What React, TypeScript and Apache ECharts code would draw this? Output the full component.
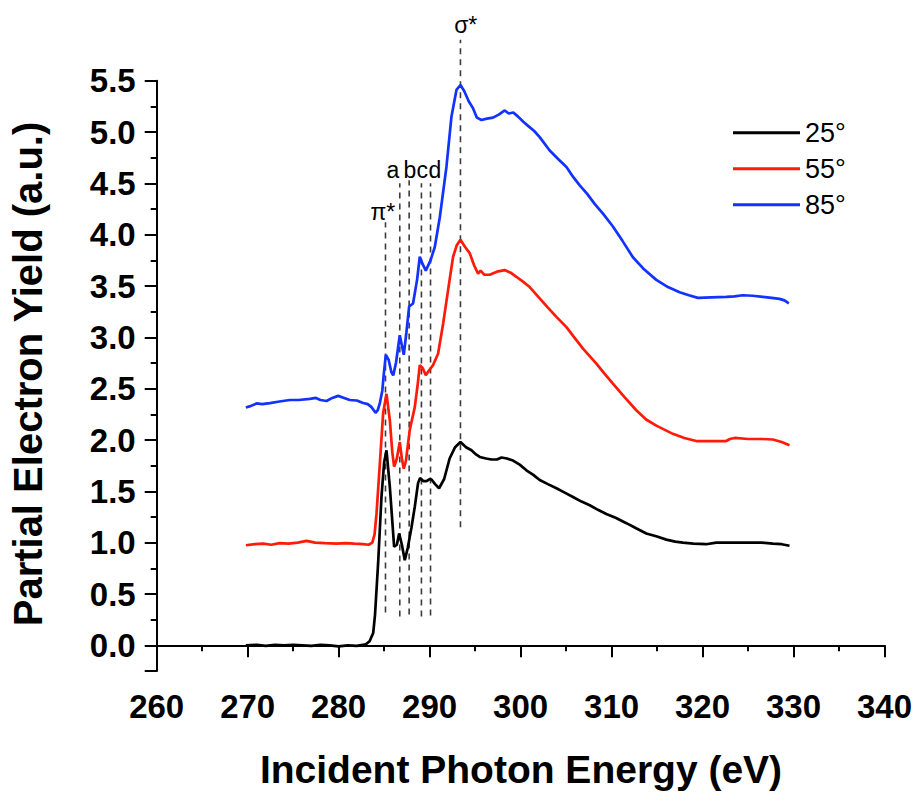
import React, { useEffect, useRef } from "react";
import * as echarts from "echarts";

// ---- data (energy eV, partial electron yield a.u.) ----
const series25: [number, number][] = [
  [269.8, 0.0], [271, 0.005], [272, -0.005], [273, 0.005], [274, 0.0], [275, 0.005], [276, 0.0],
  [277, -0.005], [278, 0.005], [279, 0.0], [280, -0.01], [281, 0.0], [282, -0.005], [283, 0.01],
  [283.4, 0.04], [283.8, 0.12], [284.0, 0.3], [284.34, 0.8], [284.71, 1.45], [285.0, 1.78],
  [285.26, 1.9], [285.63, 1.54], [286.1, 0.96], [286.4, 0.98], [286.65, 1.09], [286.95, 0.98],
  [287.27, 0.83], [287.6, 0.95], [288.01, 1.15], [288.37, 1.35], [288.73, 1.58], [288.95, 1.63],
  [289.3, 1.6], [289.66, 1.6], [290.0, 1.62], [290.21, 1.615], [290.6, 1.57], [291.04, 1.53],
  [291.6, 1.62], [292.2, 1.82], [292.8, 1.93], [293.39, 1.98], [294.0, 1.93], [294.6, 1.9],
  [295.1, 1.86], [295.51, 1.835], [296.2, 1.82], [296.8, 1.81], [297.4, 1.81], [297.9, 1.83],
  [298.5, 1.82], [299.17, 1.8], [299.9, 1.76], [300.64, 1.705], [301.4, 1.66], [302.1, 1.61],
  [303.0, 1.57], [303.94, 1.53], [304.8, 1.49], [305.76, 1.445], [306.7, 1.4], [307.6, 1.365],
  [308.5, 1.32], [309.43, 1.28], [310.5, 1.24], [311.63, 1.19], [312.7, 1.14], [313.82, 1.09],
  [315.0, 1.06], [316.02, 1.03], [317.0, 1.01], [317.84, 1.0], [319.0, 0.99], [320.41, 0.985],
  [321.51, 1.0], [322.5, 1.0], [323.5, 1.0], [325.17, 1.0], [326.5, 1.0], [327.73, 0.99],
  [328.7, 0.985], [329.56, 0.97],
];

const series55: [number, number][] = [
  [269.8, 0.975], [270.8, 0.985], [271.7, 0.99], [272.6, 0.98], [273.5, 0.995], [274.5, 0.99],
  [275.5, 1.0], [276.48, 1.017], [277.4, 1.0], [278.5, 0.995], [279.77, 0.99], [280.8, 0.995],
  [281.7, 0.99], [282.69, 0.985], [283.3, 0.98], [283.7, 1.0], [283.95, 1.08], [284.16, 1.28],
  [284.53, 1.77], [284.89, 2.26], [285.26, 2.45], [285.63, 2.19], [285.9, 1.88], [286.1, 1.74],
  [286.4, 1.82], [286.72, 1.98], [286.95, 1.82], [287.16, 1.72], [287.4, 1.8], [287.82, 2.1],
  [288.37, 2.32], [288.7, 2.55], [288.92, 2.73], [289.25, 2.7], [289.58, 2.63], [289.95, 2.68],
  [290.38, 2.73], [290.93, 2.84], [291.48, 3.13], [292.03, 3.46], [292.58, 3.785], [293.0, 3.9],
  [293.39, 3.95], [293.9, 3.88], [294.41, 3.82], [294.9, 3.7], [295.33, 3.62], [295.6, 3.65],
  [296.0, 3.61], [296.61, 3.61], [297.4, 3.64], [298.26, 3.655], [298.9, 3.63], [299.54, 3.59],
  [300.3, 3.54], [301.0, 3.49], [302.1, 3.38], [303.0, 3.29], [303.94, 3.2], [305.04, 3.1],
  [305.9, 3.0], [306.86, 2.89], [308.33, 2.745], [309.2, 2.65], [310.15, 2.55], [311.4, 2.42],
  [312.72, 2.29], [313.8, 2.2], [314.92, 2.14], [316.74, 2.06], [318.0, 2.02], [319.31, 1.99],
  [321.0, 1.99], [322.61, 1.99], [323.0, 2.01], [323.52, 2.02], [325.0, 2.01], [326.5, 2.01],
  [327.73, 2.005], [328.7, 1.98], [329.56, 1.95],
];

const series85: [number, number][] = [
  [269.8, 2.317], [270.3, 2.33], [270.98, 2.356], [271.6, 2.35], [272.44, 2.36], [273.5, 2.375],
  [274.64, 2.39], [275.6, 2.39], [276.84, 2.4], [277.5, 2.41], [278.0, 2.39], [278.67, 2.38],
  [279.3, 2.41], [279.95, 2.43], [280.6, 2.41], [281.23, 2.39], [282.0, 2.385], [282.69, 2.36],
  [283.2, 2.35], [283.62, 2.32], [284.06, 2.265], [284.3, 2.29], [284.53, 2.36], [284.8, 2.48],
  [284.97, 2.65], [285.19, 2.83], [285.5, 2.78], [285.8, 2.66], [286.0, 2.63], [286.3, 2.75],
  [286.72, 3.02], [286.95, 2.92], [287.16, 2.83], [287.45, 3.05], [287.75, 3.3], [288.18, 3.33],
  [288.62, 3.56], [288.92, 3.785], [289.2, 3.72], [289.58, 3.65], [290.1, 3.75], [290.57, 3.88],
  [291.12, 4.17], [291.85, 4.66], [292.4, 5.15], [292.95, 5.41], [293.39, 5.458], [293.8, 5.4],
  [294.3, 5.3], [294.78, 5.23], [295.2, 5.14], [295.7, 5.117], [296.3, 5.13], [296.97, 5.14],
  [297.6, 5.17], [298.26, 5.21], [298.7, 5.18], [299.2, 5.19], [299.72, 5.15], [300.3, 5.1],
  [300.82, 5.06], [301.5, 5.01], [302.1, 4.95], [303.2, 4.82], [304.1, 4.74], [305.04, 4.66],
  [305.8, 4.56], [306.5, 4.48], [307.3, 4.4], [308.14, 4.3], [309.1, 4.2], [310.15, 4.08],
  [311.2, 3.94], [312.35, 3.78], [313.6, 3.66], [314.92, 3.56], [316.2, 3.49], [317.48, 3.44],
  [318.5, 3.41], [319.49, 3.385], [321.0, 3.39], [322.61, 3.395], [323.5, 3.4], [324.43, 3.41],
  [325.5, 3.405], [326.63, 3.395], [327.6, 3.385], [328.46, 3.375], [329.0, 3.36], [329.49, 3.33],
];

const seriesNames = ["25°", "55°", "85°"];

// annotation dashed lines (energy, bottom, top) and label anchors
const annotLabels = ["π*", "a", "b", "c", "d", "σ*"];
const annotX = [285.15, 286.72, 287.75, 289.1, 290.1, 293.39];
const annotBottom = [0.32, 0.28, 0.3, 0.28, 0.29, 1.15];
const annotTop = [4.12, 4.5, 4.53, 4.5, 4.5, 5.9];
const annotLabelX = [284.86, 285.96, 287.82, 289.2, 290.57, 293.97];
const annotLabelY = [4.22, 4.63, 4.63, 4.63, 4.63, 6.04];

const xTitle = "Incident Photon Energy (eV)";
const yTitle = "Partial Electron Yield (a.u.)";

const FONT = '"Liberation Sans", Arial, Helvetica, sans-serif';

export default function App() {
  const ref = useRef<HTMLDivElement>(null);

  useEffect(() => {
    if (!ref.current) return;
    const chart = echarts.init(ref.current, null, { renderer: "svg" });

    const colors = ["#000000", "#ff1a0a", "#1232ff"];
    const datas = [series25, series55, series85];

    const lineSeries = datas.map((d, i) => ({
      type: "line",
      name: seriesNames[i],
      data: d,
      symbol: "none",
      showSymbol: false,
      lineStyle: { color: colors[i], width: 2.7 },
      itemStyle: { color: colors[i] },
      z: 3 + i,
    }));

    const annotData = annotX.map((x, i) => [x, annotBottom[i], annotTop[i], annotLabelX[i], annotLabelY[i]]);

    const option: any = {
      animation: false,
      backgroundColor: "#ffffff",
      grid: { left: 156.7, right: 29.5, top: 80.7, bottom: 121, containLabel: false },
      legend: {
        data: seriesNames,
        orient: "vertical",
        left: 728,
        top: 112.7,
        icon: "rect",
        itemWidth: 67,
        itemHeight: 3,
        itemGap: 6,
        textStyle: { fontSize: 27, fontFamily: FONT, color: "#000", lineHeight: 30 },
      },
      xAxis: {
        type: "value",
        min: 260,
        max: 340,
        interval: 10,
        axisLine: { show: true, lineStyle: { color: "#000", width: 2 } },
        axisTick: { show: true, length: 12, lineStyle: { color: "#000", width: 2 } },
        minorTick: { show: true, splitNumber: 2, length: 6, lineStyle: { color: "#000", width: 2 } },
        splitLine: { show: false },
        axisLabel: { fontSize: 33, fontWeight: "bold", fontFamily: FONT, color: "#000", margin: 19 },
      },
      yAxis: [
        {
          type: "value",
          min: -0.25,
          max: 5.5,
          interval: 0.25,
          position: "left",
          axisLine: { show: true, lineStyle: { color: "#000", width: 2 } },
          axisTick: { show: true, length: 6, lineStyle: { color: "#000", width: 2 } },
          splitLine: { show: false },
          axisLabel: {
            fontSize: 33,
            fontWeight: "bold",
            fontFamily: FONT,
            color: "#000",
            margin: 21,
            formatter: (v: number) => {
              const k = v * 2;
              return v >= 0 && Math.abs(k - Math.round(k)) < 1e-6 ? v.toFixed(1) : "";
            },
          },
        },
        {
          type: "value",
          min: -0.25,
          max: 5.5,
          splitNumber: 11,
          position: "left",
          axisLine: { show: false },
          axisTick: { show: true, length: 12, lineStyle: { color: "#000", width: 2 } },
          axisLabel: { show: false },
          splitLine: { show: false },
        },
      ],
      graphic: [
        {
          type: "text",
          x: 28,
          y: 374,
          rotation: Math.PI / 2,
          style: {
            text: yTitle,
            font: `bold 40px ${FONT}`,
            fill: "#000",
            align: "center",
            verticalAlign: "middle",
          },
        },
        {
          type: "text",
          x: 521,
          y: 769,
          style: {
            text: xTitle,
            font: `bold 39px ${FONT}`,
            fill: "#000",
            align: "center",
            verticalAlign: "middle",
          },
        },
      ],
      series: [
        {
          type: "custom",
          name: "annotations",
          data: annotData,
          clip: false,
          z: 2,
          renderItem: (params: any, api: any) => {
            const i = params.dataIndex;
            const x = api.value(0);
            const p0 = api.coord([x, api.value(1)]);
            const p1 = api.coord([x, api.value(2)]);
            const t = api.coord([api.value(3), api.value(4)]);
            return {
              type: "group",
              children: [
                {
                  type: "line",
                  shape: { x1: p0[0], y1: p0[1], x2: p1[0], y2: p1[1] },
                  style: { stroke: "#3c3c3c", lineWidth: 1.6, lineDash: [6, 5] },
                },
                {
                  type: "text",
                  x: t[0],
                  y: t[1],
                  style: {
                    text: annotLabels[i],
                    fill: "#000",
                    font: `23px ${FONT}`,
                    align: "center",
                    verticalAlign: "middle",
                  },
                },
              ],
            };
          },
        },
        ...lineSeries,
      ],
    };

    chart.setOption(option);
    return () => chart.dispose();
  }, []);

  return (
    <div
      ref={ref}
      style={{ position: "fixed", left: 0, top: 0, width: 915, height: 792, background: "#fff" }}
    />
  );
}
